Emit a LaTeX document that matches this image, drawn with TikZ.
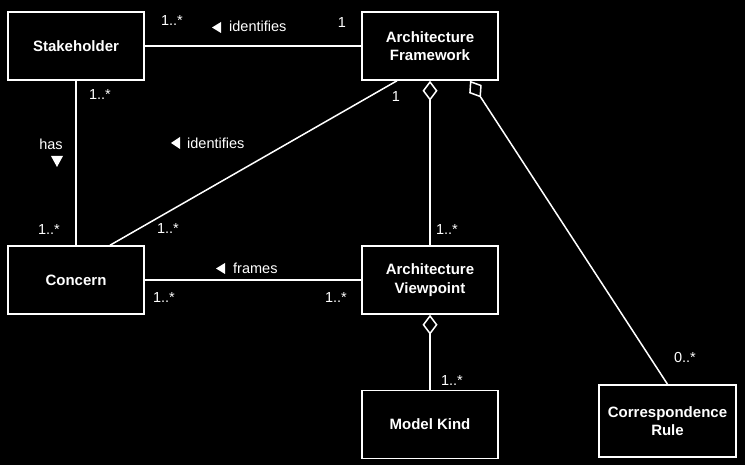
\documentclass[tikz,border=0pt]{standalone}
\usepackage{fontspec}
\setmainfont{Liberation Sans}
\usetikzlibrary{arrows.meta,calc}
\begin{document}
\begin{tikzpicture}[x=1pt,y=-1pt,
 box/.style={draw=white,line width=1.5pt,minimum width=136pt,minimum height=68pt,align=center,font=\fontsize{15}{18.5}\selectfont\bfseries,text=white,inner sep=0pt},
 conn/.style={draw=white,line width=1.5pt},
 lbl/.style={text=white,font=\fontsize{14.5}{17}\selectfont,inner sep=0pt},
 tri/.style={fill=white,draw=none},
 agg/.style={{Diamond[open,length=20pt,width=15pt]}-}
]
\fill[black] (0,0) rectangle (745,465);
\useasboundingbox (0,0) rectangle (745,465);

\node[box] (sh) at (76,46) {Stakeholder};
\node[box] (af) at (430,46) {Architecture\\Framework};
\node[box] (con) at (76,280) {Concern};
\node[box] (av) at (430,280) {Architecture\\Viewpoint};
\node[box] (mk) at (430,424.5) {Model Kind};
\node[box,minimum width=137pt,minimum height=72pt] (cr) at (667.5,421) {Correspondence\\Rule};

\coordinate (conTop) at ($(con.north)+(34,0)$);
\coordinate (afBotL) at ($(af.south)+(-33,0)$);
\coordinate (afBotR) at ($(af.south)+(40,0)$);

\draw[conn] (sh) -- (af);
\draw[conn] (sh) -- (con);
\draw[conn] (con) -- (av);
\draw[conn] (conTop) -- (afBotL);
\draw[conn,agg] (af) -- (av);
\draw[conn,agg] (afBotR) -- (cr.north);
\draw[conn,agg] (av) -- (mk);

% association labels with direction triangles
\fill[tri] (212,27.5) -- (221,22) -- (221,33) -- cycle;
\node[lbl,anchor=west] (l1) at (229,26) {identifies};
\fill[tri] (171,143) -- (180,137) -- (180,149) -- cycle;
\node[lbl,anchor=west] (l2) at (187,143) {identifies};
\fill[tri] (216,268.5) -- (225,263) -- (225,274) -- cycle;
\node[lbl,anchor=west] (l3) at (233,268) {frames};
\node[lbl] (l4) at (51,144) {has};
\fill[tri] (51,156) -- (63,156) -- (57,167) -- cycle;

% multiplicities
\node[lbl] (m1) at (172,21) {1..*};
\node[lbl] (m2) at (342,23) {1};
\node[lbl] (m3) at (100,95) {1..*};
\node[lbl] (m4) at (49,230) {1..*};
\node[lbl] (m5) at (168,229) {1..*};
\node[lbl] (m6) at (164,298) {1..*};
\node[lbl] (m7) at (336,298) {1..*};
\node[lbl] (m8) at (396,97) {1};
\node[lbl] (m9) at (447,230) {1..*};
\node[lbl] (m10) at (452,381) {1..*};
\node[lbl] (m11) at (685,358) {0..*};
\end{tikzpicture}
\end{document}
